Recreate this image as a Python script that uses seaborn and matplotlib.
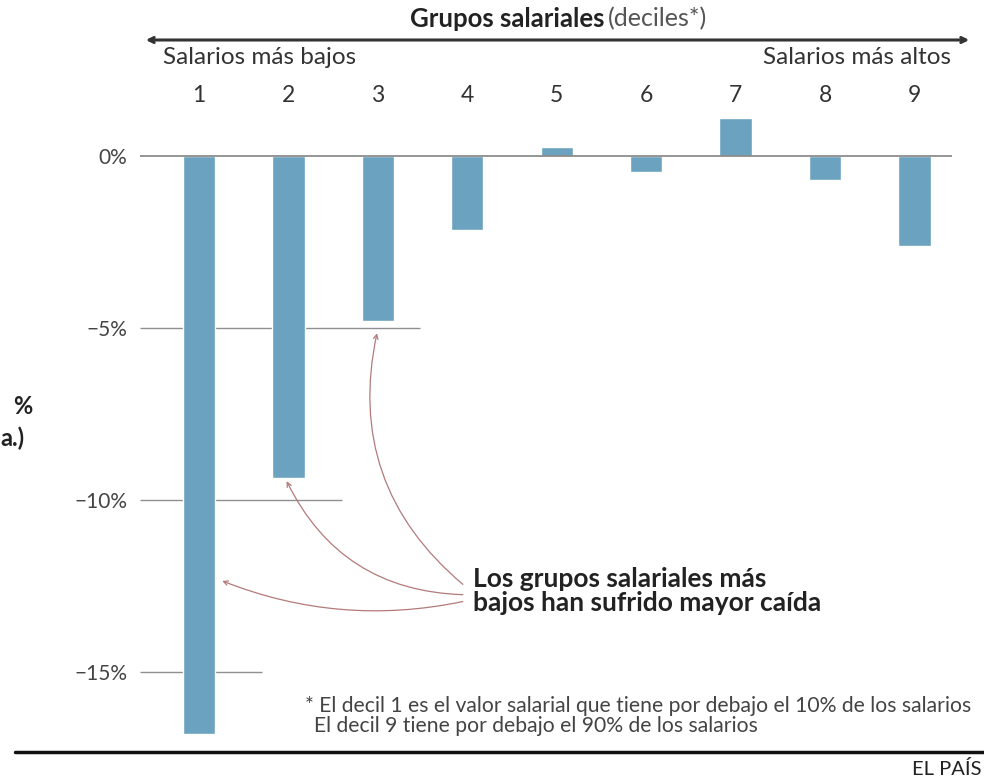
import pandas as pd
import numpy as np
import matplotlib
matplotlib.use('Agg')
import matplotlib.pyplot as plt
from matplotlib.lines import Line2D
import seaborn as sns

# data
deciles = ['1', '2', '3', '4', '5', '6', '7', '8', '9']
variacion = [-16.8, -9.35, -4.8, -2.15, 0.25, -0.45, 1.1, -0.7, -2.6]
yticks = [0, -5, -10, -15]
ytick_labels = ['0%', '\u22125%', '\u221210%', '\u221215%']
# how far each gridline runs to the right (in decile units)
grid_ends = [8.42, 2.47, 1.6, 0.7]

df = pd.DataFrame({'decil': deciles, 'var': variacion})

sns.set_theme(style='white')
plt.rcParams['font.family'] = ['Lato', 'DejaVu Sans']

W, H = 984, 777
fig = plt.figure(figsize=(W / 100, H / 100), dpi=100)

# axes placed in pixel terms: x from 140 to 952, y from 110 to 745
ax = fig.add_axes([140 / W, (H - 745) / H, 812 / W, 635 / H])

bar_color = '#6aa2bf'
sns.barplot(data=df, x='decil', y='var', color=bar_color, width=0.36,
            saturation=1, ax=ax, zorder=3)

ax.set_xlim(-0.66, 8.42)
ax.set_ylim(-17.12, 1.34)

# gridlines of different lengths
for v, xe in zip(yticks, grid_ends):
    ax.plot([-0.66, xe], [v, v], color='#8c8c8c' if v == 0 else '#8f8f8f',
            lw=1.3 if v == 0 else 1.0, zorder=2 if v != 0 else 4, solid_capstyle='butt')

for s in ax.spines.values():
    s.set_visible(False)

ax.set_yticks(yticks)
ax.set_yticklabels(ytick_labels, fontsize=15, color='#444444')
ax.tick_params(axis='y', length=0, pad=9)

ax.xaxis.tick_top()
ax.set_xticks(range(len(deciles)))
ax.set_xticklabels(deciles, fontsize=16.5, color='#333333')
ax.tick_params(axis='x', length=0, pad=3)
ax.set_xlabel('')
ax.set_ylabel('')


def px(x, y):
    return x / W, (H - y) / H


# header
fig.text(*px(604, 19), 'Grupos salariales', ha='right', va='center',
         fontsize=18.5, fontweight='bold', color='#222222')
fig.text(*px(608, 19), '(deciles*)', ha='left', va='center',
         fontsize=18, color='#555555')
fig.add_artist(matplotlib.patches.FancyArrowPatch(
    px(143, 40), px(972, 40), transform=fig.transFigure,
    arrowstyle='<->', mutation_scale=9, color='#333333', lw=2.2))
fig.text(*px(163, 58), 'Salarios más bajos', ha='left', va='center',
         fontsize=17.5, color='#333333')
fig.text(*px(951, 58), 'Salarios más altos', ha='right', va='center',
         fontsize=17.5, color='#333333')

# y label, cut off at the left edge in the reference: only its tail shows
fig.text(*px(13, 407), '%', ha='left', va='center',
         fontsize=17, fontweight='bold', color='#222222')
fig.text(*px(0, 438), 'a.)', ha='left', va='center',
         fontsize=17, fontweight='bold', color='#222222')

# annotation
ax.text(3.06, -11.95, 'Los grupos salariales más\nbajos han sufrido mayor caída',
        ha='left', va='top', fontsize=19, fontweight='bold', color='#222222',
        linespacing=1.0)
curve_color = '#b37a7a'
targets = [((2.95, -12.45), (1.99, -5.15), -0.3),
           ((2.95, -12.75), (0.98, -9.45), -0.3),
           ((2.95, -12.95), (0.26, -12.35), -0.15)]
for start, end, rad in targets:
    ax.annotate('', xy=end, xytext=start,
                arrowprops=dict(arrowstyle='->', color=curve_color, lw=0.9,
                                mutation_scale=8, shrinkA=0, shrinkB=0,
                                connectionstyle=f'arc3,rad={rad}'))

# footnote
fig.text(*px(305, 706), '* El decil 1 es el valor salarial que tiene por debajo el 10% de los salarios',
         ha='left', va='center', fontsize=15.2, color='#444444')
fig.text(*px(314, 726), 'El decil 9 tiene por debajo el 90% de los salarios',
         ha='left', va='center', fontsize=15.2, color='#444444')

fig.add_artist(Line2D([15 / W, 1], [(H - 752) / H] * 2, transform=fig.transFigure,
                      color='#111111', lw=2.5))
fig.text(*px(982, 769), 'EL PAÍS', ha='right', va='center', fontsize=14.5,
         color='#222222')

fig.savefig('out.png', dpi=100)
